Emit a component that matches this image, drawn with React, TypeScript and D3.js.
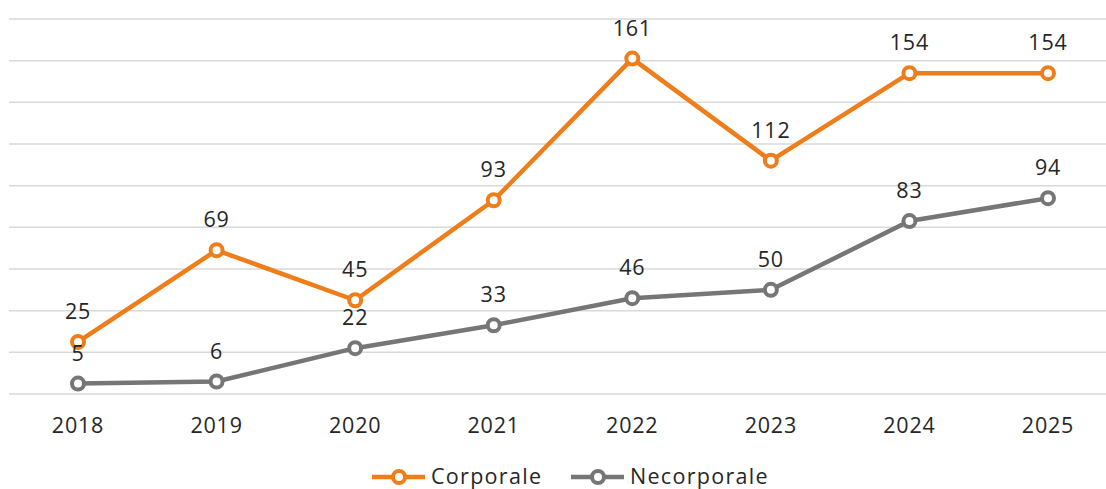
import React from "react";
import * as d3 from "d3";

const years = ["2018", "2019", "2020", "2021", "2022", "2023", "2024", "2025"];
const corporale = [25, 69, 45, 93, 161, 112, 154, 154];
const necorporale = [5, 6, 22, 33, 46, 50, 83, 94];
const yTicks = [0, 20, 40, 60, 80, 100, 120, 140, 160, 180];

const seriesList = [
  { name: "Corporale", values: corporale, color: "#EE7D1A" },
  { name: "Necorporale", values: necorporale, color: "#767676" },
];

const W = 1106;
const H = 489;
const FONT = "'Open Sans', 'Noto Sans', sans-serif";

export default function App() {
  const x = d3.scalePoint<string>().domain(years).range([78, 1048]);
  const y = d3.scaleLinear().domain([0, 180]).range([394, 19]);
  const line = d3
    .line<number>()
    .x((_, i) => x(years[i]) as number)
    .y((d) => y(d));

  const legendItems = [
    { ...seriesList[0], x0: 372 },
    { ...seriesList[1], x0: 571 },
  ];

  return (
    <svg
      width={W}
      height={H}
      style={{ position: "absolute", left: 0, top: 0, background: "#fff" }}
    >
      {yTicks.map((t) => (
        <line key={t} x1={9} x2={W} y1={y(t)} y2={y(t)} stroke="#d9d9d9" strokeWidth={1.5} />
      ))}
      {years.map((yr) => (
        <text
          key={yr}
          x={x(yr)}
          y={433}
          textAnchor="middle"
          fontFamily={FONT}
          fontSize={21.5}
          letterSpacing={0.8}
          fill="#262626"
        >
          {yr}
        </text>
      ))}
      {seriesList.map((s) => (
        <g key={s.name}>
          <path d={line(s.values) || ""} fill="none" stroke={s.color} strokeWidth={4.5} strokeLinejoin="round" />
          {s.values.map((v, i) => (
            <circle key={i} cx={x(years[i])} cy={y(v)} r={6} fill="#fff" stroke={s.color} strokeWidth={4} />
          ))}
          {s.values.map((v, i) => (
            <text
              key={"l" + i}
              x={x(years[i])}
              y={y(v) - 23}
              textAnchor="middle"
              fontFamily={FONT}
              fontSize={21.5}
              letterSpacing={0.8}
              fill="#262626"
            >
              {v}
            </text>
          ))}
        </g>
      ))}
      {legendItems.map((s) => (
        <g key={s.name}>
          <line x1={s.x0} x2={s.x0 + 53} y1={477} y2={477} stroke={s.color} strokeWidth={4.5} />
          <circle cx={s.x0 + 27} cy={477} r={6} fill="#fff" stroke={s.color} strokeWidth={4} />
          <text x={s.x0 + 59} y={484} fontFamily={FONT} fontSize={21.5} letterSpacing={1.3} fill="#262626">
            {s.name}
          </text>
        </g>
      ))}
    </svg>
  );
}
